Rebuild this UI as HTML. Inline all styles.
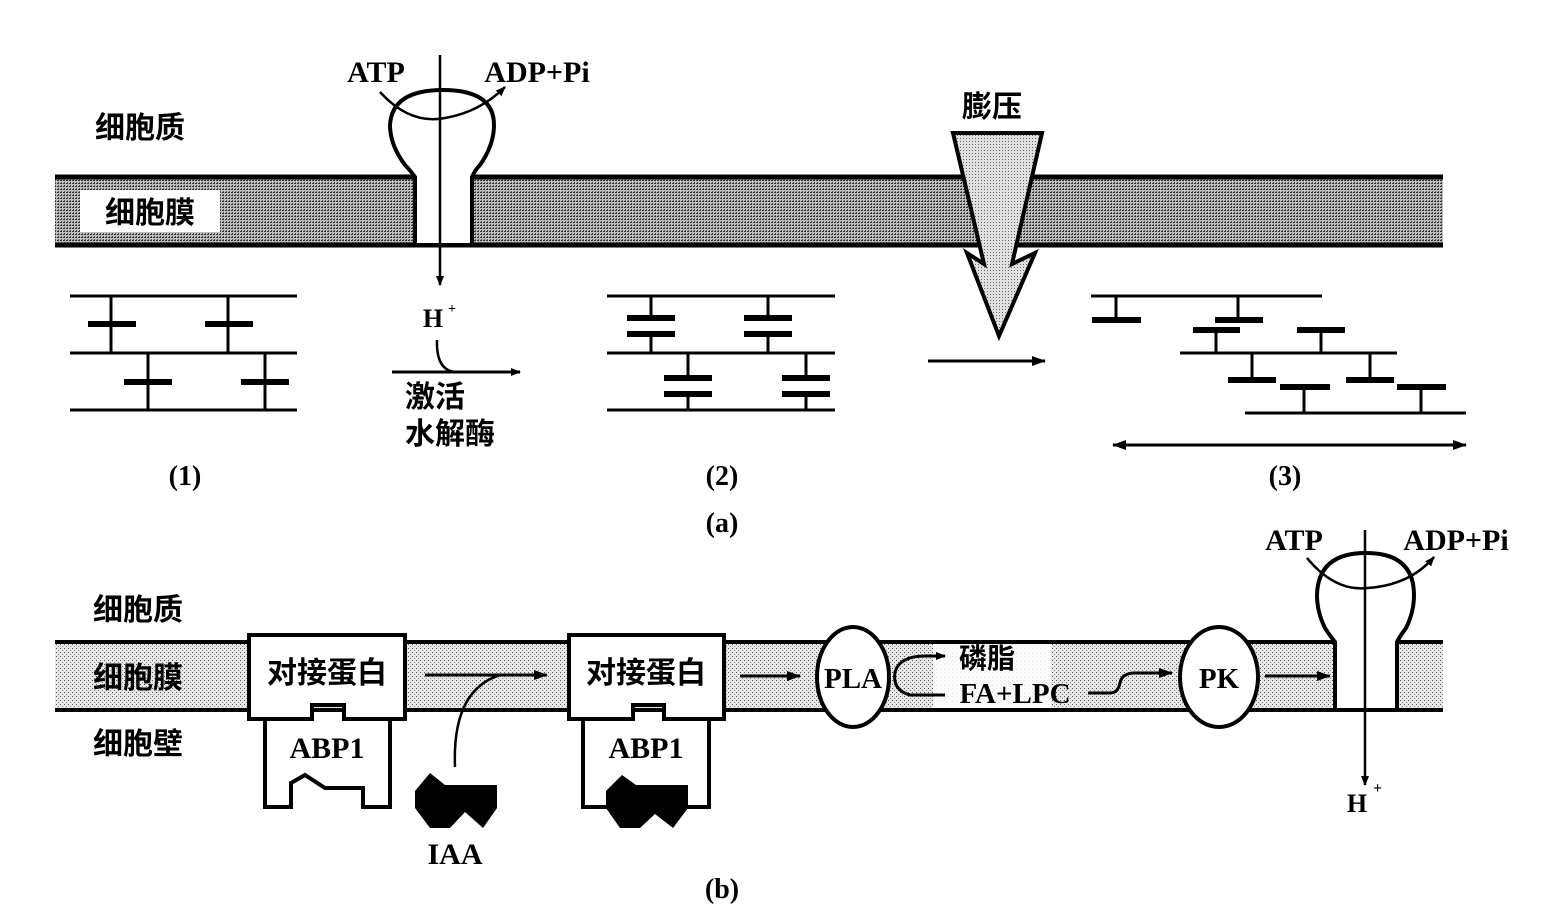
<!DOCTYPE html>
<html><head><meta charset="utf-8">
<style>
html,body{margin:0;padding:0;background:#fff;}
svg{display:block;}
text{font-family:"Liberation Serif","Noto Serif CJK SC",serif;fill:#000;font-weight:bold;}
.cj{font-family:"Liberation Serif","Noto Sans CJK SC",sans-serif;font-weight:bold;}
</style></head><body>
<svg width="1552" height="915" viewBox="0 0 1552 915" xmlns="http://www.w3.org/2000/svg">
<defs>
<pattern id="pa" width="3" height="3" patternUnits="userSpaceOnUse">
<rect width="3" height="3" fill="#bdbdbd"/><rect width="2" height="1" fill="#333"/><rect x="1" y="2" width="1" height="1" fill="#555"/>
</pattern>
<pattern id="pb" width="4" height="4" patternUnits="userSpaceOnUse">
<rect width="4" height="4" fill="#e6e6e6"/><rect width="1" height="1" fill="#555"/><rect x="2" y="2" width="1" height="1" fill="#888"/>
</pattern>
<pattern id="pc" width="3" height="3" patternUnits="userSpaceOnUse">
<rect width="3" height="3" fill="#e0e0e0"/><rect width="1" height="1" fill="#666"/>
</pattern>
<marker id="ah" markerWidth="10" markerHeight="8" refX="9" refY="4" orient="auto" markerUnits="userSpaceOnUse">
<path d="M0,0 L10,4 L0,8 Z" fill="#000"/></marker>
<marker id="ah2" markerWidth="14" markerHeight="10" refX="13" refY="5" orient="auto" markerUnits="userSpaceOnUse">
<path d="M0,0 L14,5 L0,10 Z" fill="#000"/></marker>
<marker id="as" markerWidth="14" markerHeight="10" refX="1" refY="5" orient="auto" markerUnits="userSpaceOnUse">
<path d="M14,0 L0,5 L14,10 Z" fill="#000"/></marker>
</defs>

<!-- ===== (a) ===== -->
<rect x="55" y="177" width="1388" height="68" fill="url(#pa)"/>
<line x1="55" y1="177" x2="1443" y2="177" stroke="#000" stroke-width="5"/>
<line x1="55" y1="245" x2="1443" y2="245" stroke="#000" stroke-width="5"/>
<rect x="80" y="190" width="140" height="42" fill="#fff"/>
<text x="150" y="223" font-size="30" text-anchor="middle" class="cj">细胞膜</text>
<text x="140" y="138" font-size="30" text-anchor="middle" class="cj">细胞质</text>

<!-- pump a -->
<path d="M415,245 L415,177 Q410,170 405,165 Q390,145 390,125 Q392,90 443,90 Q494,90 494,125 Q494,145 480,165 Q475,170 472,177 L472,245 Z" fill="#fff" stroke="#000" stroke-width="4"/>
<line x1="415" y1="245" x2="472" y2="245" stroke="#000" stroke-width="4"/>
<line x1="440" y1="55" x2="440" y2="285" stroke="#000" stroke-width="2.5" marker-end="url(#ah)"/>
<path d="M380,92 Q410,125 445,118 Q480,112 505,87" fill="none" stroke="#000" stroke-width="2.5" marker-end="url(#ah)"/>
<text x="376" y="82" font-size="30" text-anchor="middle">ATP</text>
<text x="537" y="82" font-size="30" text-anchor="middle">ADP+Pi</text>
<text x="433" y="327" font-size="26" text-anchor="middle">H</text>
<text x="448" y="313" font-size="14">+</text>
<path d="M437,340 Q436,370 455,372" fill="none" stroke="#000" stroke-width="2.5"/>
<line x1="392" y1="372" x2="520" y2="372" stroke="#000" stroke-width="3" marker-end="url(#ah)"/>
<text x="435" y="407" font-size="30" text-anchor="middle" class="cj">激活</text>
<text x="450" y="444" font-size="30" text-anchor="middle" class="cj">水解酶</text>
<text x="185" y="485" font-size="28" text-anchor="middle">(1)</text>
<text x="722" y="485" font-size="28" text-anchor="middle">(2)</text>
<text x="1285" y="485" font-size="28" text-anchor="middle">(3)</text>
<text x="722" y="532" font-size="28" text-anchor="middle">(a)</text>

<g stroke="#000" stroke-width="3" fill="none">
<line x1="70" y1="296" x2="297" y2="296"/><line x1="70" y1="353" x2="297" y2="353"/><line x1="70" y1="410" x2="297" y2="410"/>
<line x1="111" y1="296" x2="111" y2="353"/><line x1="228" y1="296" x2="228" y2="353"/>
<line x1="148" y1="353" x2="148" y2="410"/><line x1="265" y1="353" x2="265" y2="410"/>
<g stroke-width="6">
<line x1="88" y1="324" x2="136" y2="324"/><line x1="205" y1="324" x2="253" y2="324"/>
<line x1="124" y1="382" x2="172" y2="382"/><line x1="241" y1="382" x2="289" y2="382"/>
</g>
<line x1="607" y1="296" x2="835" y2="296"/><line x1="607" y1="353" x2="835" y2="353"/><line x1="607" y1="410" x2="835" y2="410"/>
<line x1="651" y1="296" x2="651" y2="318"/><line x1="651" y1="334" x2="651" y2="353"/>
<line x1="768" y1="296" x2="768" y2="318"/><line x1="768" y1="334" x2="768" y2="353"/>
<line x1="688" y1="353" x2="688" y2="378"/><line x1="688" y1="394" x2="688" y2="410"/>
<line x1="806" y1="353" x2="806" y2="378"/><line x1="806" y1="394" x2="806" y2="410"/>
<g stroke-width="6">
<line x1="627" y1="318" x2="675" y2="318"/><line x1="627" y1="334" x2="675" y2="334"/>
<line x1="744" y1="318" x2="792" y2="318"/><line x1="744" y1="334" x2="792" y2="334"/>
<line x1="664" y1="378" x2="712" y2="378"/><line x1="664" y1="394" x2="712" y2="394"/>
<line x1="782" y1="378" x2="830" y2="378"/><line x1="782" y1="394" x2="830" y2="394"/>
</g>
<line x1="1091" y1="296" x2="1322" y2="296"/>
<line x1="1180" y1="353" x2="1397" y2="353"/>
<line x1="1245" y1="413" x2="1466" y2="413"/>
<line x1="1116" y1="296" x2="1116" y2="320"/><line x1="1238" y1="296" x2="1238" y2="320"/>
<line x1="1216" y1="330" x2="1216" y2="353"/><line x1="1321" y1="330" x2="1321" y2="353"/>
<line x1="1252" y1="353" x2="1252" y2="380"/><line x1="1370" y1="353" x2="1370" y2="380"/>
<line x1="1304" y1="387" x2="1304" y2="413"/><line x1="1421" y1="387" x2="1421" y2="413"/>
<g stroke-width="6">
<line x1="1092" y1="320" x2="1141" y2="320"/><line x1="1215" y1="320" x2="1263" y2="320"/>
<line x1="1193" y1="330" x2="1240" y2="330"/><line x1="1297" y1="330" x2="1345" y2="330"/>
<line x1="1228" y1="380" x2="1276" y2="380"/><line x1="1346" y1="380" x2="1394" y2="380"/>
<line x1="1280" y1="387" x2="1330" y2="387"/><line x1="1397" y1="387" x2="1446" y2="387"/>
</g>
</g>
<line x1="1113" y1="445" x2="1466" y2="445" stroke="#000" stroke-width="3" marker-start="url(#as)" marker-end="url(#ah2)"/>
<line x1="928" y1="361" x2="1045" y2="361" stroke="#000" stroke-width="3" marker-end="url(#ah2)"/>

<text x="992" y="117" font-size="30" text-anchor="middle" class="cj">膨压</text>
<polygon points="953,133 1042,133 1012,264 1035,253 999,336 967,253 984,264" fill="url(#pc)" stroke="#000" stroke-width="4" stroke-linejoin="miter"/>

<!-- ===== (b) ===== -->
<rect x="55" y="642" width="1388" height="68" fill="url(#pb)"/>
<line x1="55" y1="642" x2="1443" y2="642" stroke="#000" stroke-width="4"/>
<line x1="55" y1="710" x2="1443" y2="710" stroke="#000" stroke-width="4"/>
<text x="138" y="620" font-size="30" text-anchor="middle" class="cj">细胞质</text>
<text x="138" y="688" font-size="30" text-anchor="middle" class="cj">细胞膜</text>
<text x="138" y="754" font-size="30" text-anchor="middle" class="cj">细胞壁</text>

<path d="M265,719 L265,807 L291,807 L291,783 L305,775 L325,788 L363,788 L363,807 L390,807 L390,719" fill="#fff" stroke="#000" stroke-width="4"/>
<path d="M249,635 L405,635 L405,719 L344,719 L344,705 L312,705 L312,719 L249,719 Z" fill="#fff" stroke="#000" stroke-width="4"/>
<text x="327" y="683" font-size="30" text-anchor="middle" class="cj">对接蛋白</text>
<text x="327" y="758" font-size="30" text-anchor="middle">ABP1</text>

<path d="M583,719 L583,807 L709,807 L709,719" fill="#fff" stroke="#000" stroke-width="4"/>
<path d="M569,635 L724,635 L724,719 L664,719 L664,705 L633,705 L633,719 L569,719 Z" fill="#fff" stroke="#000" stroke-width="4"/>
<text x="646" y="683" font-size="30" text-anchor="middle" class="cj">对接蛋白</text>
<text x="646" y="758" font-size="30" text-anchor="middle">ABP1</text>
<polygon points="606,791 622,775 636,785 688,785 688,808 673,828 655,814 640,828 620,828 606,808" fill="#000"/>

<polygon points="415,791 430,773 445,785 497,785 497,808 483,828 465,812 450,828 430,828 415,808" fill="#000"/>
<text x="455" y="864" font-size="30" text-anchor="middle">IAA</text>
<line x1="425" y1="675" x2="547" y2="675" stroke="#000" stroke-width="3" marker-end="url(#ah2)"/>
<path d="M455,767 Q452,690 500,675" fill="none" stroke="#000" stroke-width="2.5"/>
<line x1="740" y1="676" x2="800" y2="676" stroke="#000" stroke-width="3" marker-end="url(#ah2)"/>

<ellipse cx="853" cy="677" rx="36" ry="50" fill="#fff" stroke="#000" stroke-width="4"/>
<text x="853" y="688" font-size="29" text-anchor="middle">PLA</text>
<rect x="933" y="644" width="118" height="64" fill="#fff" opacity="0.85"/>
<path d="M945,695 L910,695 Q892,690 895,672 Q900,655 928,656 L945,656" fill="none" stroke="#000" stroke-width="3" marker-end="url(#ah)"/>
<text x="987" y="668" font-size="28" text-anchor="middle" class="cj">磷脂</text>
<text x="1015" y="703" font-size="29" text-anchor="middle">FA+LPC</text>
<path d="M1088,693 L1110,693 Q1118,693 1120,683 Q1122,673 1135,673 L1172,673" fill="none" stroke="#000" stroke-width="3" marker-end="url(#ah2)"/>

<ellipse cx="1219" cy="677" rx="39" ry="50" fill="#fff" stroke="#000" stroke-width="4"/>
<text x="1219" y="688" font-size="29" text-anchor="middle">PK</text>
<line x1="1265" y1="676" x2="1330" y2="676" stroke="#000" stroke-width="3" marker-end="url(#ah2)"/>

<path d="M1335,710 L1335,642 Q1330,636 1325,628 Q1317,612 1317,595 Q1318,553 1366,553 Q1414,553 1414,595 Q1414,612 1406,628 Q1400,636 1397,642 L1397,710 Z" fill="#fff" stroke="#000" stroke-width="4"/>
<line x1="1335" y1="710" x2="1397" y2="710" stroke="#000" stroke-width="4"/>
<line x1="1365" y1="530" x2="1365" y2="785" stroke="#000" stroke-width="2.5" marker-end="url(#ah)"/>
<path d="M1307,558 Q1335,592 1368,588 Q1410,585 1434,557" fill="none" stroke="#000" stroke-width="2.5" marker-end="url(#ah)"/>
<text x="1294" y="550" font-size="30" text-anchor="middle">ATP</text>
<text x="1456" y="550" font-size="30" text-anchor="middle">ADP+Pi</text>
<text x="1357" y="812" font-size="26" text-anchor="middle">H</text>
<text x="1373" y="793" font-size="16">+</text>
<text x="722" y="898" font-size="28" text-anchor="middle">(b)</text>
</svg>
</body></html>
